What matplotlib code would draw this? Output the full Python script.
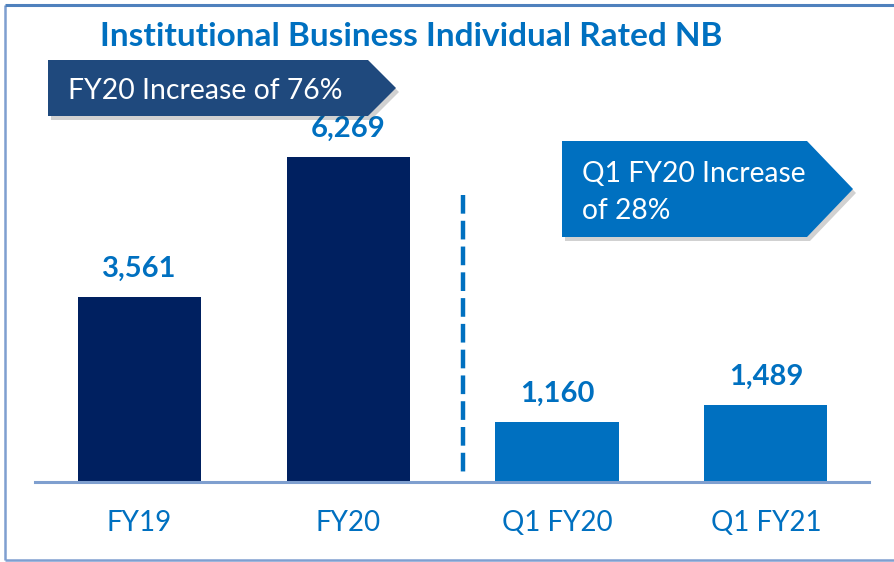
import matplotlib
matplotlib.use("Agg")
import matplotlib.pyplot as plt
from matplotlib.patches import Polygon

plt.rcParams['font.family'] = ['Lato', 'DejaVu Sans']

categories = ["FY19", "FY20", "Q1 FY20", "Q1 FY21"]
values = [3561, 6269, 1160, 1489]
value_labels = ["3,561", "6,269", "1,160", "1,489"]
bar_colors = ["#002060", "#002060", "#0070C0", "#0070C0"]
title = "Institutional Business Individual Rated NB"
callout1 = "FY20 Increase of 76%"
callout2 = "Q1 FY20 Increase\nof 28%"

W, H = 895, 562
fig = plt.figure(figsize=(W / 100, H / 100), dpi=100)

# main axes
ax = fig.add_axes([35 / W, 80 / H, (869 - 35) / W, 382 / H])
ax.bar(range(len(values)), values, width=0.59, color=bar_colors, zorder=2)
ax.set_xlim(-0.5, 3.494)
ax.set_ylim(0, 7369)
for s in ["top", "right", "left"]:
    ax.spines[s].set_visible(False)
ax.spines["bottom"].set_color("#7F9FCF")
ax.spines["bottom"].set_linewidth(2.2)
ax.set_yticks([])
ax.set_xticks(range(len(categories)))
ax.set_xticklabels(categories, fontsize=20, color="#0070C0")
ax.tick_params(axis="x", length=0, pad=20)
for i, (v, lab) in enumerate(zip(values, value_labels)):
    ax.annotate(lab, (i, v), xytext=(0, 14.5), textcoords="offset points",
                ha="center", va="baseline", fontsize=21, fontweight="bold",
                color="#0070C0")

# overlay in pixel coordinates
ov = fig.add_axes([0, 0, 1, 1], zorder=5)
ov.set_xlim(0, W)
ov.set_ylim(H, 0)
ov.axis("off")
ov.patch.set_alpha(0)

# border
ov.plot([5, 5], [5, 560], color="#7F9FD0", lw=1.8, solid_capstyle="butt")
ov.plot([5, W], [5, 5], color="#4F81BD", lw=2.2, solid_capstyle="butt")
ov.plot([5, W], [560, 560], color="#7F9FD0", lw=1.8, solid_capstyle="butt")

# title
ov.text(411, 46, title, ha="center", va="baseline", fontsize=24,
        fontweight="bold", color="#0070C0")

# dashed divider
ov.plot([463, 463], [195, 478], color="#0070C0", lw=3.2,
        dashes=(4.2, 1.6))

def arrow(x0, y0, x1, y1, xt, fc):
    pts = [(x0, y0), (x1, y0), (xt, (y0 + y1) / 2), (x1, y1), (x0, y1)]
    sh = [(x + 3, y + 4) for x, y in pts]
    ov.add_patch(Polygon(sh, closed=True, fc="#000000", ec="none", alpha=0.18))
    ov.add_patch(Polygon(pts, closed=True, fc=fc, ec="none"))

arrow(48, 60, 368, 116, 396, "#1F497D")
ov.text(68, 99, callout1, ha="left", va="baseline", fontsize=20.4, color="white")

arrow(562, 141, 807, 237, 853, "#0070C0")
ov.text(582, 182, callout2.split("\n")[0], ha="left", va="baseline",
        fontsize=20.3, color="white")
ov.text(582, 219, callout2.split("\n")[1], ha="left", va="baseline",
        fontsize=20.3, color="white")

fig.savefig("out.png", dpi=100)
